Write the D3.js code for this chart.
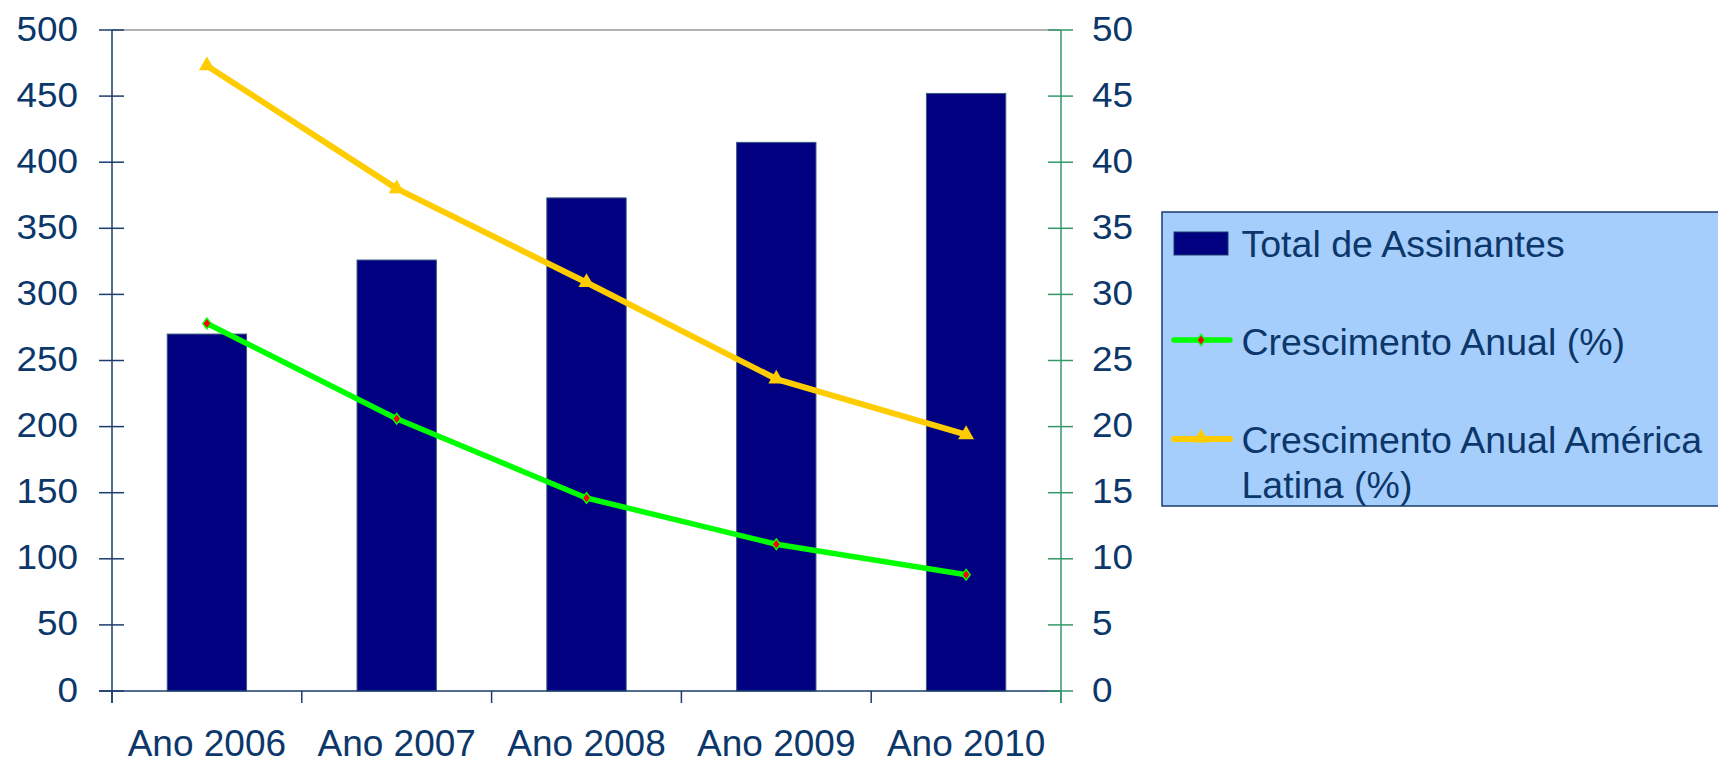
<!DOCTYPE html>
<html>
<head>
<meta charset="utf-8">
<script src="https://cdn.jsdelivr.net/npm/d3@7"></script>
<style>
  html, body { margin: 0; padding: 0; background: #fff; }
  svg { display: block; }
  text { font-family: "Liberation Sans", Arial, sans-serif; fill: #0c376a; }
</style>
</head>
<body>
<svg id="chart" width="1718" height="764"></svg>
<script>
const categories = ["Ano 2006", "Ano 2007", "Ano 2008", "Ano 2009", "Ano 2010"];
const totalAssinantes = [270, 326, 373, 415, 452];
const crescimentoAnual = [27.8, 20.6, 14.6, 11.1, 8.8];
const crescimentoAL = [47.3, 38.0, 30.9, 23.6, 19.4];
const leftTicks = [0, 50, 100, 150, 200, 250, 300, 350, 400, 450, 500];
const rightTicks = [0, 5, 10, 15, 20, 25, 30, 35, 40, 45, 50];
const legendLabels = ["Total de Assinantes", "Crescimento Anual (%)", ["Crescimento Anual América", "Latina (%)"]];

const svg = d3.select("#chart");
const plotL = 112, plotR = 1061, plotT = 30, plotB = 691;
const navy = "#1a3d6d", green = "#339966";

const x = d3.scaleBand().domain(categories).range([plotL, plotR])
  .paddingInner(0.582).paddingOuter(0.291);
const xb = d3.scaleLinear().domain([0, categories.length]).range([plotL, plotR]);
const yL = d3.scaleLinear().domain([0, 500]).range([plotB, plotT]);
const yR = d3.scaleLinear().domain([0, 50]).range([plotB, plotT]);
const cx = c => x(c) + x.bandwidth() / 2;

// top border
svg.append("line").attr("x1", plotL).attr("x2", plotR).attr("y1", plotT).attr("y2", plotT)
  .attr("stroke", "#999").attr("stroke-width", 1.5);

// bars
svg.append("g").selectAll("rect").data(totalAssinantes).join("rect")
  .attr("x", (d, i) => x(categories[i]))
  .attr("y", d => yL(d))
  .attr("width", x.bandwidth())
  .attr("height", d => yL(0) - yL(d))
  .attr("fill", "#000080")
  .attr("stroke", "#3a5a80").attr("stroke-width", 1);

// x axis line
svg.append("line").attr("x1", plotL - 13).attr("x2", plotR).attr("y1", plotB).attr("y2", plotB)
  .attr("stroke", navy).attr("stroke-width", 1.5);
// category ticks
svg.append("g").selectAll("line").data(d3.range(categories.length + 1)).join("line")
  .attr("x1", d => xb(d)).attr("x2", d => xb(d))
  .attr("y1", plotB).attr("y2", plotB + 12)
  .attr("stroke", d => d === categories.length ? green : navy).attr("stroke-width", 1.5);

// left axis
svg.append("line").attr("x1", plotL).attr("x2", plotL).attr("y1", plotT).attr("y2", plotB + 12)
  .attr("stroke", navy).attr("stroke-width", 1.5);
svg.append("g").selectAll("line").data(leftTicks).join("line")
  .attr("x1", plotL - 13).attr("x2", plotL + 12)
  .attr("y1", d => yL(d)).attr("y2", d => yL(d))
  .attr("stroke", navy).attr("stroke-width", 1.5);
svg.append("g").selectAll("text").data(leftTicks).join("text")
  .attr("transform", d => `translate(78,${yL(d) + 10.5}) scale(1.04,1)`)
  .attr("text-anchor", "end").attr("font-size", 35.5).text(d => d);

// right axis
svg.append("line").attr("x1", plotR).attr("x2", plotR).attr("y1", plotT).attr("y2", plotB + 12)
  .attr("stroke", green).attr("stroke-width", 1.5);
svg.append("g").selectAll("line").data(rightTicks).join("line")
  .attr("x1", plotR - 13).attr("x2", plotR + 12)
  .attr("y1", d => yR(d)).attr("y2", d => yR(d))
  .attr("stroke", green).attr("stroke-width", 1.5);
svg.append("g").selectAll("text").data(rightTicks).join("text")
  .attr("transform", d => `translate(1092,${yR(d) + 10.5}) scale(1.04,1)`)
  .attr("text-anchor", "start").attr("font-size", 35.5).text(d => d);

// category labels
svg.append("g").selectAll("text").data(categories).join("text")
  .attr("x", d => cx(d)).attr("y", 756)
  .attr("text-anchor", "middle").attr("font-size", 37).text(d => d);

// lines
const lineG = d3.line().x((d, i) => cx(categories[i])).y(d => yR(d));
svg.append("path").datum(crescimentoAL).attr("d", lineG)
  .attr("fill", "none").attr("stroke", "#ffcc00").attr("stroke-width", 6).attr("stroke-linejoin", "round");
svg.append("path").datum(crescimentoAnual).attr("d", lineG)
  .attr("fill", "none").attr("stroke", "#00ff00").attr("stroke-width", 5.5).attr("stroke-linejoin", "round");

const tri = d3.symbol().type(d3.symbolTriangle).size(110);
const dia = d3.symbol().type(d3.symbolDiamond2 || d3.symbolDiamond).size(60);
svg.append("g").selectAll("path").data(crescimentoAL).join("path")
  .attr("d", tri).attr("transform", (d, i) => `translate(${cx(categories[i])},${yR(d)})`)
  .attr("fill", "#ffcc00");
svg.append("g").selectAll("path").data(crescimentoAnual).join("path")
  .attr("d", dia).attr("transform", (d, i) => `translate(${cx(categories[i])},${yR(d)}) scale(0.85,1.1)`)
  .attr("fill", "#ff0000").attr("stroke", "#00ff00").attr("stroke-width", 1.5);

// legend
const lg = svg.append("g");
lg.append("rect").attr("x", 1162).attr("y", 212).attr("width", 620).attr("height", 294)
  .attr("fill", "#a6cefc").attr("stroke", "#1a3d6d").attr("stroke-width", 1.5);
lg.append("rect").attr("x", 1174).attr("y", 232).attr("width", 54).attr("height", 23)
  .attr("fill", "#000080").attr("stroke", "#1a3d6d").attr("stroke-width", 1);
lg.append("line").attr("x1", 1174).attr("x2", 1230).attr("y1", 340).attr("y2", 340)
  .attr("stroke", "#00ff00").attr("stroke-width", 5.5).attr("stroke-linecap", "round");
lg.append("path").attr("d", dia).attr("transform", "translate(1201,340) scale(0.85,1.1)")
  .attr("fill", "#ff0000").attr("stroke", "#00ff00").attr("stroke-width", 1.5);
lg.append("line").attr("x1", 1174).attr("x2", 1230).attr("y1", 439).attr("y2", 439)
  .attr("stroke", "#ffcc00").attr("stroke-width", 6).attr("stroke-linecap", "round");
lg.append("path").attr("d", tri).attr("transform", "translate(1201,438)").attr("fill", "#ffcc00");

const legendLines = [[legendLabels[0], 256.5], [legendLabels[1], 355], [legendLabels[2][0], 452.5], [legendLabels[2][1], 498]];
lg.selectAll("text.l").data(legendLines).join("text").attr("class", "l")
  .attr("x", 1241.5).attr("y", d => d[1])
  .attr("font-size", 37.5).text(d => d[0]);
</script>
</body>
</html>
